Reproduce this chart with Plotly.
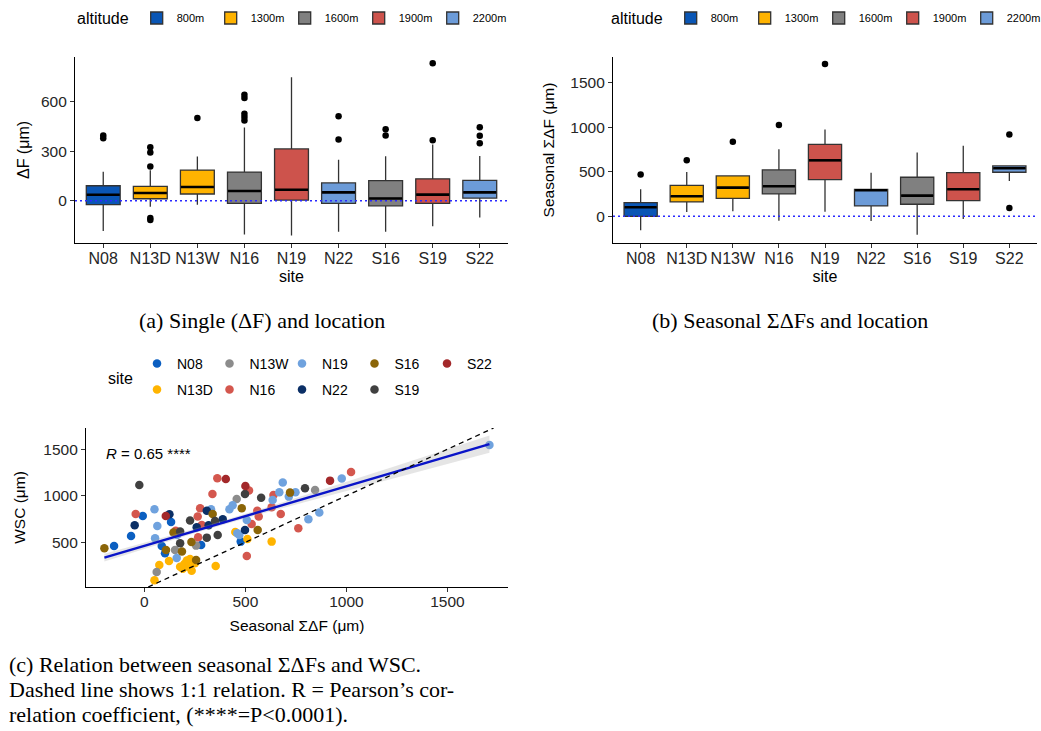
import numpy as np
import plotly.graph_objects as go

# ---------------- data ----------------
sites = ["N08", "N13D", "N13W", "N16", "N19", "N22", "S16", "S19", "S22"]
site_altitude = ["800m", "1300m", "1300m", "1600m", "1900m", "2200m", "1600m", "1900m", "2200m"]
altitudes = ["800m", "1300m", "1600m", "1900m", "2200m"]

# panel (a): single dF box statistics per site
a_q1 = [-24, 12, 41, -16, 4, -16, -31, -16, 16]
a_median = [36, 47, 83, 59, 67, 51, 14, 37, 51]
a_q3 = [91, 87, 186, 174, 314, 108, 122, 133, 124]
a_lower = [-184, -36, -24, -205, -210, -188, -188, -155, -102]
a_upper = [176, 185, 268, 444, 749, 249, 269, 341, 271]
a_out_site = ["N08", "N08", "N13D", "N13D", "N13D", "N13D", "N13D", "N13W",
              "N16", "N16", "N16", "N16", "N16", "N22", "N22", "S16", "S16",
              "S19", "S19", "S22", "S22", "S22"]
a_out_value = [395, 379, 207, 292, 324, -104, -117, 501,
               643, 622, 527, 507, 486, 512, 371, 433, 396,
               833, 367, 445, 394, 349]

# panel (b): seasonal sum dF box statistics per site
b_q1 = [0, 161, 202, 251, 412, 116, 135, 176, 494]
b_median = [101, 224, 322, 337, 628, 292, 232, 303, 539]
b_q3 = [153, 348, 453, 520, 808, 303, 438, 490, 565]
b_lower = [-157, 49, 56, -49, 52, -52, -206, -30, 397]
b_upper = [303, 498, 453, 752, 973, 490, 715, 793, 565]
b_out_site = ["N08", "N13D", "N13W", "N16", "N19", "S22", "S22"]
b_out_value = [468, 628, 838, 1025, 1710, 917, 94]

# panel (c): seasonal sum dF (x) vs WSC (y) per site
c_N08_x = [-150, -66, -8, 132, 86, 102, 281, 477]
c_N08_y = [461, 568, 783, 719, 461, 382, 471, 507]
c_N13D_x = [50, 74, 122, 177, 198, 210, 226, 234, 218, 250, 190, 353, 450, 510, 630]
c_N13D_y = [91, 256, 299, 238, 267, 303, 321, 195, 238, 275, 215, 245, 611, 536, 507]
c_N13W_x = [61, 152, 256, 457, 845]
c_N13W_y = [181, 418, 464, 966, 1063]
c_N16_x = [-43, 155, 264, 276, 266, 284, 337, 361, 518, 507, 531, 559, 566, 630, 639, 675, 762, 1023]
c_N16_y = [805, 625, 776, 866, 554, 686, 1020, 1188, 1056, 353, 697, 840, 776, 876, 1009, 805, 651, 1256]
c_N19_x = [50, 64, 53, 162, 160, 330, 421, 437, 460, 470, 507, 635, 668, 685, 715, 748, 812, 866, 977, 1708]
c_N19_y = [855, 676, 543, 579, 332, 855, 855, 898, 597, 579, 740, 955, 1038, 1142, 991, 1038, 747, 819, 1185, 1547]
c_N22_x = [-48, 124, 259, 309, 318, 388, 498]
c_N22_y = [683, 801, 661, 840, 683, 747, 633]
c_S16_x = [-198, 107, 144, 186, 233, 256, 338, 482, 561, 721]
c_S16_y = [435, 418, 604, 400, 504, 310, 805, 866, 633, 1034]
c_S19_x = [-25, 177, 177, 226, 309, 350, 363, 498, 578, 795]
c_S19_y = [1116, 489, 615, 733, 550, 729, 579, 1020, 980, 1081]
c_S22_x = [106, 403, 500, 919]
c_S22_y = [783, 1181, 1106, 1163]

# linear fit (intercept, slope) and its confidence band
fit_intercept = 462
fit_slope = 0.64
band_center_x = 350
band_center_half = 22
band_growth = 0.066

# ---------------- style ----------------
W, H = 1041, 731
FONT = "Liberation Sans, Arial, sans-serif"
SERIF = "Liberation Serif, Times New Roman, serif"
alt_colors = {"800m": "#0a56b5", "1300m": "#ffb300", "1600m": "#808080",
              "1900m": "#cd534c", "2200m": "#6c9bd8"}
site_colors = {"N08": "#0b5fc1", "N13D": "#ffb400", "N13W": "#8c8c8c", "N16": "#d4574e",
               "N19": "#6fa2de", "N22": "#0b2f66", "S16": "#8b6508", "S19": "#404040",
               "S22": "#a3282a"}
legend_row1 = ["N08", "N13W", "N19", "S16", "S22"]
scatter_data = {"N08": (c_N08_x, c_N08_y), "N13D": (c_N13D_x, c_N13D_y),
                "N13W": (c_N13W_x, c_N13W_y), "N16": (c_N16_x, c_N16_y),
                "N19": (c_N19_x, c_N19_y), "N22": (c_N22_x, c_N22_y),
                "S16": (c_S16_x, c_S16_y), "S19": (c_S19_x, c_S19_y),
                "S22": (c_S22_x, c_S22_y)}


def dx(p):
    return p / W


def dy(p):
    return 1 - p / H


fig = go.Figure()


def add_box_panel(xa, ya, legend, q1, med, q3, lo, hi, out_site, out_val, median_px):
    for alt in altitudes:
        idx = [i for i, a in enumerate(site_altitude) if a == alt]
        fig.add_trace(go.Box(
            x=[sites[i] for i in idx],
            q1=[q1[i] for i in idx], median=[med[i] for i in idx], q3=[q3[i] for i in idx],
            lowerfence=[lo[i] for i in idx], upperfence=[hi[i] for i in idx],
            name=alt, fillcolor=alt_colors[alt], line=dict(color="#333333", width=1.3),
            whiskerwidth=0, width=0.72, boxpoints=False, hoverinfo="skip",
            xaxis=xa, yaxis=ya, legend=legend))
    fig.add_trace(go.Scatter(
        x=sites, y=med, mode="markers", showlegend=False, hoverinfo="skip",
        marker=dict(symbol="line-ew", size=median_px / 1.4, line=dict(width=2.6, color="black")),
        xaxis=xa, yaxis=ya))
    fig.add_trace(go.Scatter(
        x=out_site, y=out_val, mode="markers", showlegend=False, hoverinfo="skip",
        marker=dict(size=6.5, color="black"), xaxis=xa, yaxis=ya))


add_box_panel("x", "y", "legend", a_q1, a_median, a_q3, a_lower, a_upper,
              a_out_site, a_out_value, 33)
add_box_panel("x2", "y2", "legend2", b_q1, b_median, b_q3, b_lower, b_upper,
              b_out_site, b_out_value, 32)

# panel (c) scatter
for s in sites:
    xs, ys = scatter_data[s]
    fig.add_trace(go.Scatter(
        x=xs, y=ys, mode="markers", name=s,
        legend="legend3" if s in legend_row1 else "legend4",
        marker=dict(size=8.5, color=site_colors[s]), xaxis="x3", yaxis="y3"))

all_x = np.concatenate([np.array(scatter_data[s][0], float) for s in sites])
fx = np.linspace(all_x.min(), all_x.max(), 80)
fy = fit_intercept + fit_slope * fx
half = np.sqrt(band_center_half ** 2 + (band_growth * (fx - band_center_x)) ** 2)
fig.add_trace(go.Scatter(
    x=np.concatenate([fx, fx[::-1]]), y=np.concatenate([fy + half, (fy - half)[::-1]]),
    fill="toself", fillcolor="rgba(170,170,170,0.3)", line=dict(width=0),
    mode="lines", showlegend=False, hoverinfo="skip", xaxis="x3", yaxis="y3"))
fig.add_trace(go.Scatter(
    x=fx, y=fy, mode="lines", line=dict(color="#0a14c8", width=2.4),
    showlegend=False, hoverinfo="skip", xaxis="x3", yaxis="y3"))

c_xrange = [-289, 1800]
c_yrange = [19, 1729]
one_lo = max(c_xrange[0], c_yrange[0])
one_hi = min(c_xrange[1], c_yrange[1])
fig.add_trace(go.Scatter(
    x=[one_lo, one_hi], y=[one_lo, one_hi], mode="lines",
    line=dict(color="black", width=1.3, dash="5px,4px"),
    showlegend=False, hoverinfo="skip", xaxis="x3", yaxis="y3"))

# ---------------- axes ----------------
def axis(size_tick, size_title, lab_off=0):
    return dict(showline=True, linecolor="black", linewidth=1.1, ticks="outside", ticklen=4,
                tickcolor="#333333", tickwidth=1.1, showgrid=False, zeroline=False,
                automargin=False, tickangle=0, ticklabelstandoff=lab_off,
                tickfont=dict(size=size_tick, color="#262626", family=FONT),
                title_font=dict(size=size_title, color="black", family=FONT))


fig.update_layout(
    xaxis=dict(domain=[dx(75), dx(508)], anchor="y", type="category",
               categoryorder="array", categoryarray=sites, range=[-0.6, 8.6],
               title=dict(text="site", standoff=4), **axis(16, 16, -3)),
    yaxis=dict(domain=[dy(243), dy(57)], anchor="x", range=[-256, 871],
               tickvals=[0, 300, 600], title=dict(text="ΔF (μm)", standoff=7), **axis(15.5, 16)),
    xaxis2=dict(domain=[dx(613), dx(1037)], anchor="y2", type="category",
                categoryorder="array", categoryarray=sites, range=[-0.6, 8.6],
                title=dict(text="site", standoff=4), **axis(16, 16, -3)),
    yaxis2=dict(domain=[dy(243), dy(57)], anchor="x2", range=[-300, 1788],
                tickvals=[0, 500, 1000, 1500],
                title=dict(text="Seasonal ΣΔF (μm)", standoff=11), **axis(15.5, 15.5)),
    xaxis3=dict(domain=[dx(86), dx(508)], anchor="y3", range=c_xrange,
                tickvals=[0, 500, 1000, 1500],
                title=dict(text="Seasonal ΣΔF (μm)", standoff=11), **axis(15.5, 15.5, -4)),
    yaxis3=dict(domain=[dy(587), dy(428)], anchor="x3", range=c_yrange,
                tickvals=[500, 1000, 1500], title=dict(text="WSC (μm)", standoff=13),
                **axis(15.5, 15.5)),
)

box_legend = dict(orientation="h", xanchor="left", yanchor="middle", entrywidth=29,
                  bgcolor="rgba(0,0,0,0)", font=dict(size=11, family=FONT, color="black"))
site_legend = dict(orientation="h", xanchor="left", yanchor="middle", entrywidth=27.5,
                   bgcolor="rgba(0,0,0,0)", font=dict(size=14, family=FONT, color="black"))
alt_title = dict(text="altitude", side="left", font=dict(size=16, family=FONT))
fig.update_layout(
    legend=dict(x=dx(75), y=dy(19), title=alt_title, **box_legend),
    legend2=dict(x=dx(609), y=dy(19), title=alt_title, **box_legend),
    legend3=dict(x=dx(137), y=dy(364), **site_legend),
    legend4=dict(x=dx(137), y=dy(390), **site_legend),
    boxmode="overlay",
    width=W, height=H, margin=dict(l=0, r=0, t=0, b=0),
    paper_bgcolor="white", plot_bgcolor="white",
    font=dict(family=FONT, color="black"),
)

# zero reference lines
for xa, ya in [("x", "y"), ("x2", "y2")]:
    fig.add_shape(type="line", xref=f"{xa} domain", yref=ya, x0=0, x1=1, y0=0, y1=0,
                  line=dict(color="#2a2aff", width=1.5, dash="2px,3px"), layer="above")

# annotations
fig.add_annotation(x=dx(106), y=dy(378), xref="paper", yref="paper", xanchor="left",
                   yanchor="middle", text="site", showarrow=False,
                   font=dict(size=16, family=FONT, color="black"))
fig.add_annotation(x=-200, y=1457, xref="x3", yref="y3", xanchor="left", yanchor="middle",
                   text="<i>R</i> = 0.65 ****", showarrow=False,
                   font=dict(size=15, family=FONT, color="black"))
cap_font = dict(size=22, family=SERIF, color="black")
fig.add_annotation(x=dx(262), y=dy(320), xref="paper", yref="paper",
                   text="(a) Single (ΔF) and location",
                   showarrow=False, font=cap_font, xanchor="center", yanchor="middle")
fig.add_annotation(x=dx(790), y=dy(320), xref="paper", yref="paper",
                   text="(b) Seasonal ΣΔFs and location",
                   showarrow=False, font=cap_font, xanchor="center", yanchor="middle")
cap_lines = ["(c) Relation between seasonal ΣΔFs and WSC.",
             "Dashed line shows 1:1 relation. R = Pearson’s cor-",
             "relation coefficient, (****=P&lt;0.0001)."]
for i, line in enumerate(cap_lines):
    fig.add_annotation(x=dx(7), y=dy(664 + 25 * i), xref="paper", yref="paper", text=line,
                       showarrow=False, font=cap_font, xanchor="left", yanchor="middle")

# page without the default 8px body margin so the 1041x731 figure fills the window
fig.write_html("out.html", config={"displayModeBar": False},
               post_script="document.body.style.margin='0px';")
